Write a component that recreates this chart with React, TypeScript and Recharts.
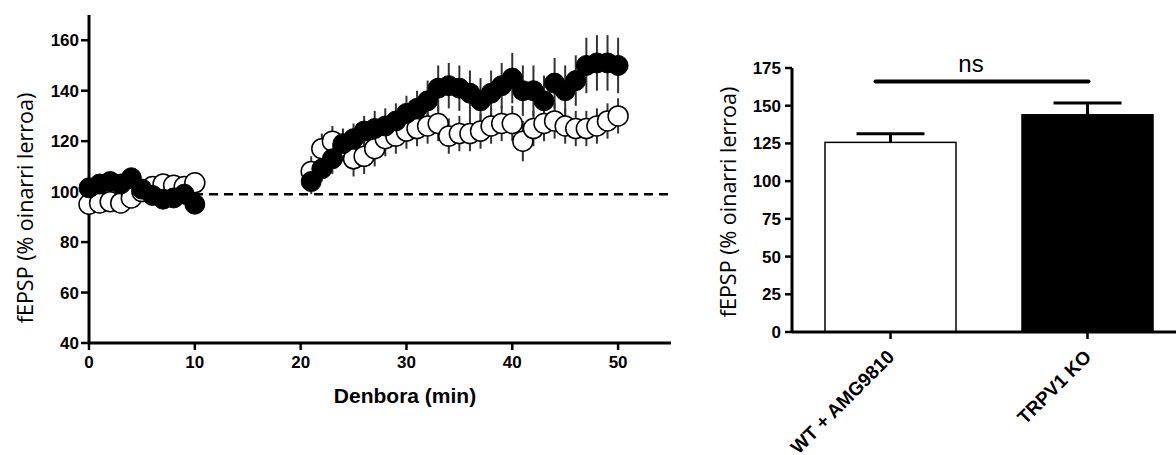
import React from 'react';
import {
  ScatterChart, Scatter, XAxis, YAxis, ErrorBar, ReferenceLine, Label,
  BarChart, Bar, Cell,
} from 'recharts';

// ---------- Time course (left) ----------
const timeMin = [0, 1, 2, 3, 4, 5, 6, 7, 8, 9, 10,
  21, 22, 23, 24, 25, 26, 27, 28, 29, 30, 31, 32, 33, 34, 35, 36, 37, 38, 39, 40,
  41, 42, 43, 44, 45, 46, 47, 48, 49, 50];

const koMean = [101.5, 103, 104, 103, 105.5, 101, 98.5, 97, 97.5, 99, 95,
  104, 109, 113, 119, 121, 124, 125, 126, 128, 131, 133, 136, 141, 142, 141, 139, 136, 139, 142, 145,
  140, 140, 136, 143, 140, 144, 150, 151, 151, 150];
const koSem = [2, 2, 2, 2, 2, 2, 2, 2, 2, 2, 2,
  5, 5, 6, 6, 6, 6, 7, 7, 7, 7, 7, 8, 9, 9, 9, 9, 9, 9, 9, 10,
  10, 10, 10, 10, 10, 10, 11, 11, 11, 11];

const wtMean = [95, 95.5, 96, 95.5, 97.5, 100, 102, 103, 102.5, 102, 103.5,
  108, 117, 120, 118, 113, 114, 117, 121, 122, 124, 125, 126, 127, 122, 123, 123, 124, 126, 127, 127,
  120, 125, 127, 128, 126, 125, 125, 126, 128, 130];
const wtSem = [2, 2, 2, 2, 2, 2, 2, 2, 2, 2, 2,
  6, 6, 6, 6, 7, 7, 7, 7, 7, 7, 7, 7, 7, 7, 7, 7, 7, 7, 7, 7,
  8, 7, 7, 7, 7, 7, 7, 7, 7, 7];

const xTicks = [0, 10, 20, 30, 40, 50];
const yTicksLeft = [40, 60, 80, 100, 120, 140, 160];
const baselineLevel = 99;

// ---------- Summary bars (right) ----------
const groups = ['WT + AMG9810', 'TRPV1 KO'];
const groupMean = [125.7, 144];
const groupSem = [5.7, 7.8];
const groupFill = ['#ffffff', '#000000'];
const yTicksRight = [0, 25, 50, 75, 100, 125, 150, 175];
const nsLevel = 166;

const koData = timeMin.map((t, i) => ({ t, v: koMean[i], e: koSem[i] }));
const wtData = timeMin.map((t, i) => ({ t, v: wtMean[i], e: wtSem[i] }));
const barData = groups.map((g, i) => ({ g, v: groupMean[i], sem: groupSem[i], fill: groupFill[i] }));

const FONT = '"Liberation Sans", Arial, sans-serif';
const TITLE_FONT = '"Open Sans", sans-serif';

const tickStyle = { fontFamily: FONT, fontSize: 17, fontWeight: 700, fill: '#000' };

const OpenDot = (p: any) => (
  <circle cx={p.cx} cy={p.cy} r={10} fill="#fff" stroke="#000" strokeWidth={1.5} />
);
const FilledDot = (p: any) => (
  <circle cx={p.cx} cy={p.cy} r={10} fill="#000" stroke="#000" strokeWidth={1} />
);

// Bar with an upward-only SEM whisker, length taken from the bar's own scale (height / value)
const BarWithSem = (p: any) => {
  const { x, y, width, height, payload } = p;
  const pxPerUnit = height / payload.v;
  const top = y - payload.sem * pxPerUnit;
  const cx = x + width / 2;
  return (
    <g>
      <line x1={cx} y1={y} x2={cx} y2={top} stroke="#000" strokeWidth={3} />
      <line x1={cx - 34} y1={top} x2={cx + 34} y2={top} stroke="#000" strokeWidth={3} />
      <rect x={x} y={y} width={width} height={height} fill={payload.fill} stroke="#000" strokeWidth={1.5} />
    </g>
  );
};

const CatTick = (p: any) => {
  const x = p.x + 5;
  const y = p.y + 17;
  return (
    <text x={x} y={y} transform={`rotate(-45, ${x}, ${y})`} textAnchor="end"
      style={{ fontFamily: FONT, fontSize: 19, fontWeight: 700 }} fill="#000">
      {p.payload.value}
    </text>
  );
};

const NsShape = (p: any) => {
  const x1 = p.x1 - 15;
  const x2 = p.x2 + 1;
  const y = p.y1;
  return (
    <g>
      <line x1={x1} y1={y} x2={x2} y2={y} stroke="#000" strokeWidth={4} strokeLinecap="round" />
      <text x={(x1 + x2) / 2 - 11} y={y - 10} textAnchor="middle"
        style={{ fontFamily: FONT, fontSize: 24 }} fill="#000">ns</text>
    </g>
  );
};

export default function App() {
  return (
    <div style={{ position: 'absolute', left: 0, top: 0, width: 1176, height: 455, overflow: 'hidden', background: '#fff' }}>
      <div style={{ position: 'absolute', left: 0, top: 0 }}>
        <ScatterChart width={690} height={455} margin={{ top: 15, right: 19, left: 19, bottom: 42 }}>
          <XAxis dataKey="t" type="number" domain={[0, 55]} ticks={xTicks} interval={0}
            height={70} axisLine={{ stroke: '#000', strokeWidth: 3 }}
            tickLine={{ stroke: '#000', strokeWidth: 2.5 }} tickSize={7} tickMargin={6} tick={tickStyle}>
            <Label content={() => (
              <text x={405} y={403} textAnchor="middle"
                style={{ fontFamily: FONT, fontSize: 21, fontWeight: 700 }} fill="#000">Denbora (min)</text>
            )} />
          </XAxis>
          <YAxis dataKey="v" type="number" domain={[40, 170]} ticks={yTicksLeft} interval={0}
            width={70} axisLine={{ stroke: '#000', strokeWidth: 3 }}
            tickLine={{ stroke: '#000', strokeWidth: 2.5 }} tickSize={8} tickMargin={2} tick={tickStyle}>
            <Label content={() => (
              <text x={24} y={208} transform="rotate(-90, 24, 208)" textAnchor="middle" dominantBaseline="central"
                style={{ fontFamily: TITLE_FONT, fontSize: 21.5 }} fill="#000">fEPSP (% oinarri lerroa)</text>
            )} />
          </YAxis>
          <ReferenceLine y={baselineLevel} stroke="#000" strokeWidth={2.5} strokeDasharray="9 6" />
          <Scatter data={wtData} dataKey="v" shape={OpenDot} isAnimationActive={false}>
            <ErrorBar dataKey="e" direction="y" width={0} stroke="#333" strokeWidth={2} isAnimationActive={false} />
          </Scatter>
          <Scatter data={koData} dataKey="v" shape={FilledDot} isAnimationActive={false}>
            <ErrorBar dataKey="e" direction="y" width={0} stroke="#333" strokeWidth={2} isAnimationActive={false} />
          </Scatter>
        </ScatterChart>
      </div>
      <div style={{ position: 'absolute', left: 690, top: 0 }}>
        <BarChart width={500} height={455} data={barData} margin={{ top: 68, right: 4, left: 42, bottom: 23 }}
          barSize={131}>
          <XAxis dataKey="g" height={100} interval={0} axisLine={{ stroke: '#000', strokeWidth: 3 }}
            tickLine={{ stroke: '#000', strokeWidth: 2.5 }} tickSize={7} tick={<CatTick />} />
          <YAxis type="number" domain={[0, 175]} ticks={yTicksRight} interval={0} width={60}
            axisLine={{ stroke: '#000', strokeWidth: 3 }}
            tickLine={{ stroke: '#000', strokeWidth: 2.5 }} tickSize={7} tickMargin={4} tick={tickStyle}>
            <Label content={() => (
              <text x={37} y={202} transform="rotate(-90, 37, 202)" textAnchor="middle" dominantBaseline="central"
                style={{ fontFamily: TITLE_FONT, fontSize: 21.5 }} fill="#000">fEPSP (% oinarri lerroa)</text>
            )} />
          </YAxis>
          <Bar dataKey="v" shape={BarWithSem} isAnimationActive={false}>
            {barData.map((d) => <Cell key={d.g} fill={d.fill} />)}
          </Bar>
          <ReferenceLine segment={[{ x: groups[0], y: nsLevel }, { x: groups[1], y: nsLevel }]}
            shape={NsShape} ifOverflow="visible" />
        </BarChart>
      </div>
    </div>
  );
}
